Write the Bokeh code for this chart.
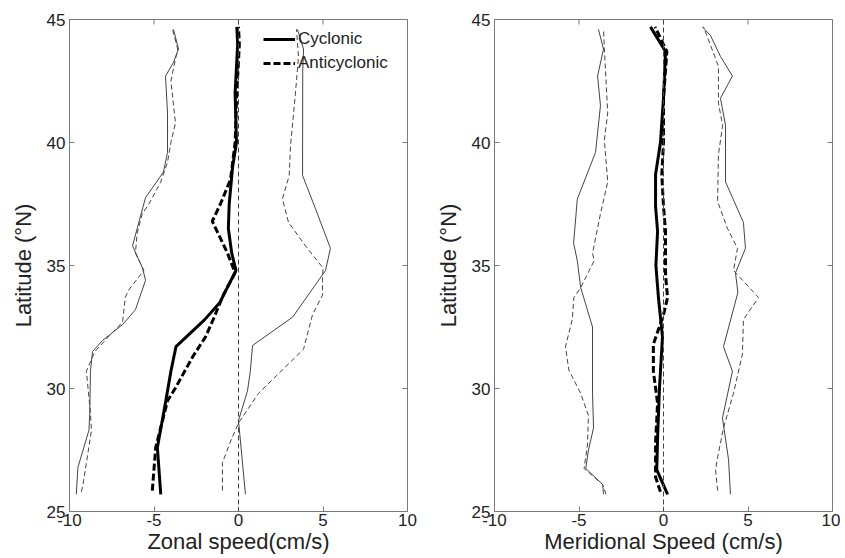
from bokeh.plotting import figure
from bokeh.models import Range1d, FixedTicker, Legend, LegendItem, Span
from bokeh.layouts import row
from bokeh.embed import file_html
from bokeh.resources import INLINE

# ---------------- data ----------------
x_ticks = [-10, -5, 0, 5, 10]
x_tick_labels = ["-10", "-5", "0", "5", "10"]
y_ticks = [25, 30, 35, 40, 45]
y_tick_labels = ["25", "30", "35", "40", "45"]

# Zonal speed panel
zon_cyc_lat = [25.7, 27.6, 29.5, 30.7, 31.7, 32.8, 33.5, 34.8, 35.5, 36.5, 37.5, 39.0, 40.0, 42.0, 44.0, 44.7]
zon_cyc_val = [-4.6, -4.8, -4.3, -4.0, -3.7, -2.0, -1.1, -0.15, -0.4, -0.6, -0.55, -0.35, -0.12, -0.2, -0.05, -0.1]
zon_anti_lat = [25.85, 27.6, 29.5, 30.0, 31.3, 32.1, 32.8, 33.8, 34.7, 35.5, 36.8, 37.5, 38.5, 40.0, 42.0, 44.0, 44.7]
zon_anti_val = [-5.1, -4.9, -4.2, -3.75, -2.7, -1.95, -1.5, -0.9, -0.2, -0.65, -1.55, -1.07, -0.47, -0.2, -0.1, 0.05, 0.0]

zon_cyc_lo_lat = [25.7, 26.8, 28.3, 29.0, 30.7, 31.5, 31.95, 32.6, 33.2, 34.4, 34.9, 35.8, 36.75, 37.76, 38.8, 39.6, 41.2, 42.7, 43.25, 43.8, 44.6]
zon_cyc_lo_val = [-9.6, -9.5, -8.85, -8.8, -8.76, -8.64, -8.05, -6.86, -6.1, -5.5, -5.68, -6.27, -5.9, -5.5, -4.44, -4.2, -4.2, -4.32, -3.85, -3.55, -3.85]
zon_anti_lo_lat = [25.8, 26.1, 28.3, 29.0, 30.7, 31.5, 32.1, 32.7, 33.7, 34.0, 34.8, 35.5, 36.3, 37.1, 37.5, 38.4, 39.2, 40.0, 40.8, 42.5, 43.0, 43.8, 44.6]
zon_anti_lo_val = [-9.3, -9.2, -8.7, -8.76, -9.0, -8.5, -7.7, -6.86, -6.7, -6.5, -5.6, -6.1, -6.0, -5.7, -5.3, -4.6, -4.2, -4.0, -3.73, -4.0, -3.85, -3.6, -3.9]

zon_cyc_hi_lat = [25.7, 28.7, 29.9, 30.7, 31.75, 32.9, 34.8, 35.7, 37.3, 38.66, 42.9, 43.8, 44.6]
zon_cyc_hi_val = [0.41, 0.0, 0.53, 0.7, 0.83, 3.2, 5.15, 5.44, 4.56, 3.79, 3.8, 3.85, 3.49]
zon_anti_hi_lat = [25.85, 27.0, 27.3, 27.8, 28.6, 29.8, 31.6, 33.0, 33.8, 34.4, 34.9, 35.8, 36.75, 37.7, 38.66, 39.9, 42.0, 43.5, 44.6]
zon_anti_hi_val = [-0.95, -0.95, -0.77, -0.5, 0.0, 1.18, 3.85, 4.38, 4.97, 4.97, 5.0, 3.96, 2.96, 2.6, 3.0, 3.08, 3.37, 3.55, 3.43]

# Meridional speed panel
mer_cyc_lat = [25.7, 26.7, 28.0, 30.0, 32.1, 33.7, 35.0, 36.4, 37.4, 38.7, 40.0, 41.8, 43.7, 44.7]
mer_cyc_val = [0.24, -0.4, -0.35, -0.24, -0.06, -0.3, -0.45, -0.35, -0.47, -0.47, -0.18, 0.0, 0.12, -0.77]
mer_anti_lat = [25.8, 26.4, 27.8, 29.4, 30.7, 31.8, 33.0, 33.7, 34.6, 35.2, 36.4, 37.4, 38.7, 40.0, 41.8, 43.7, 44.7]
mer_anti_val = [-0.18, -0.47, -0.47, -0.35, -0.6, -0.6, 0.0, 0.24, 0.12, 0.12, 0.12, 0.0, -0.1, 0.0, 0.0, 0.2, -0.5]

mer_cyc_lo_lat = [25.7, 26.1, 26.75, 27.5, 28.4, 29.8, 32.5, 34.1, 35.2, 35.9, 37.7, 39.6, 41.5, 42.7, 43.8, 44.6]
mer_cyc_lo_val = [-3.55, -3.6, -4.6, -4.44, -4.14, -4.2, -4.2, -4.9, -5.1, -5.32, -5.1, -4.02, -3.73, -3.9, -3.55, -3.85]
mer_anti_lo_lat = [25.7, 26.1, 26.75, 27.7, 28.9, 29.8, 30.75, 31.7, 32.8, 33.7, 34.1, 35.2, 35.5, 37.1, 38.4, 40.1, 41.2, 43.8, 44.6]
mer_anti_lo_val = [-3.4, -3.6, -4.7, -4.5, -4.44, -4.9, -5.6, -5.8, -5.4, -5.3, -4.9, -4.1, -4.2, -3.73, -3.3, -3.5, -3.3, -3.5, -3.55]

mer_cyc_hi_lat = [25.7, 27.1, 28.8, 30.7, 31.7, 33.9, 34.7, 35.7, 36.75, 38.4, 40.7, 41.8, 42.7, 43.5, 44.35, 44.7]
mer_cyc_hi_val = [3.96, 3.85, 3.49, 4.08, 3.55, 4.4, 4.26, 4.85, 4.73, 3.67, 3.67, 3.37, 4.08, 3.37, 2.78, 2.3]
mer_anti_hi_lat = [25.85, 26.7, 27.2, 28.4, 29.8, 31.4, 32.8, 33.7, 34.8, 35.7, 36.5, 37.6, 39.5, 40.7, 41.6, 43.1, 44.7]
mer_anti_hi_val = [3.2, 3.08, 3.2, 3.55, 4.14, 4.67, 4.73, 5.62, 4.14, 4.38, 3.79, 3.2, 3.25, 3.5, 3.25, 3.25, 2.37]

FONT = "Liberation Sans"
AX_COL = "#7a7a7a"
TXT_COL = "#222222"
THIN_COL = "#444444"
X_MIN, X_MAX, Y_MIN, Y_MAX = -10, 10, 25, 45


def make_panel(xlabel, width, left_border, right_border, panel):
    p = figure(width=width, height=556, output_backend="svg", toolbar_location=None,
               x_range=Range1d(X_MIN, X_MAX), y_range=Range1d(Y_MIN, Y_MAX),
               min_border_left=left_border, min_border_right=right_border,
               min_border_top=19, min_border_bottom=10,
               background_fill_color="white", border_fill_color="white")
    p.xgrid.visible = False
    p.ygrid.visible = False
    p.outline_line_color = AX_COL
    p.outline_line_width = 1

    for ax, ticks, labels in ((p.xaxis[0], x_ticks, x_tick_labels), (p.yaxis[0], y_ticks, y_tick_labels)):
        ax.ticker = FixedTicker(ticks=ticks)
        ax.major_label_overrides = {t: l for t, l in zip(ticks, labels)}
        ax.major_tick_in = 5
        ax.major_tick_out = 0
        ax.minor_tick_line_color = None
        ax.axis_line_color = AX_COL
        ax.major_tick_line_color = AX_COL
        ax.major_label_text_font = FONT
        ax.major_label_text_font_size = "17px"
        ax.major_label_text_color = TXT_COL
        ax.axis_label_text_font = FONT
        ax.axis_label_text_font_size = "22px"
        ax.axis_label_text_font_style = "normal"
        ax.axis_label_text_color = TXT_COL
    p.xaxis.axis_label = xlabel
    p.xaxis.major_label_standoff = 2
    p.xaxis.axis_label_standoff = 0
    p.yaxis.axis_label = "Latitude (°N)"
    p.yaxis.major_label_standoff = 4
    p.yaxis.axis_label_standoff = 8

    # inward ticks on the top and right edges of the box (MATLAB style)
    dy = (Y_MAX - Y_MIN) * 5.0 / 490.0
    dx = (X_MAX - X_MIN) * 5.0 / 338.0
    p.segment(x0=x_ticks, x1=x_ticks, y0=[Y_MAX] * len(x_ticks), y1=[Y_MAX - dy] * len(x_ticks),
              line_color=AX_COL, line_width=1)
    p.segment(x0=[X_MAX] * len(y_ticks), x1=[X_MAX - dx] * len(y_ticks), y0=y_ticks, y1=y_ticks,
              line_color=AX_COL, line_width=1)

    p.add_layout(Span(location=0, dimension="height", line_color="#444444", line_width=1, line_dash="5 3"))

    (c_lat, c_val, a_lat, a_val, cl_lat, cl_val, al_lat, al_val,
     ch_lat, ch_val, ah_lat, ah_val) = panel
    p.line(cl_val, cl_lat, line_color=THIN_COL, line_width=1)
    p.line(ch_val, ch_lat, line_color=THIN_COL, line_width=1)
    p.line(al_val, al_lat, line_color=THIN_COL, line_width=1, line_dash="5 3")
    p.line(ah_val, ah_lat, line_color=THIN_COL, line_width=1, line_dash="5 3")
    rc = p.line(c_val, c_lat, line_color="black", line_width=3)
    ra = p.line(a_val, a_lat, line_color="black", line_width=3, line_dash="7 3")
    return p, rc, ra


p1, rc1, ra1 = make_panel("Zonal speed(cm/s)", 420, 69, 13,
                          (zon_cyc_lat, zon_cyc_val, zon_anti_lat, zon_anti_val,
                           zon_cyc_lo_lat, zon_cyc_lo_val, zon_anti_lo_lat, zon_anti_lo_val,
                           zon_cyc_hi_lat, zon_cyc_hi_val, zon_anti_hi_lat, zon_anti_hi_val))
p2, rc2, ra2 = make_panel("Meridional Speed (cm/s)", 420, 74, 8,
                          (mer_cyc_lat, mer_cyc_val, mer_anti_lat, mer_anti_val,
                           mer_cyc_lo_lat, mer_cyc_lo_val, mer_anti_lo_lat, mer_anti_lo_val,
                           mer_cyc_hi_lat, mer_cyc_hi_val, mer_anti_hi_lat, mer_anti_hi_val))

legend = Legend(items=[LegendItem(label="Cyclonic", renderers=[rc1]),
                       LegendItem(label="Anticyclonic", renderers=[ra1])],
                location=(194, 438), padding=0, margin=0, spacing=4,
                glyph_width=32, glyph_height=20, label_height=20, label_standoff=3,
                label_text_font=FONT, label_text_font_size="17px", label_text_color=TXT_COL,
                border_line_color=None, background_fill_alpha=0)
p1.add_layout(legend)

layout = row(p1, p2)
open("out.html", "w").write(file_html(layout, INLINE))
